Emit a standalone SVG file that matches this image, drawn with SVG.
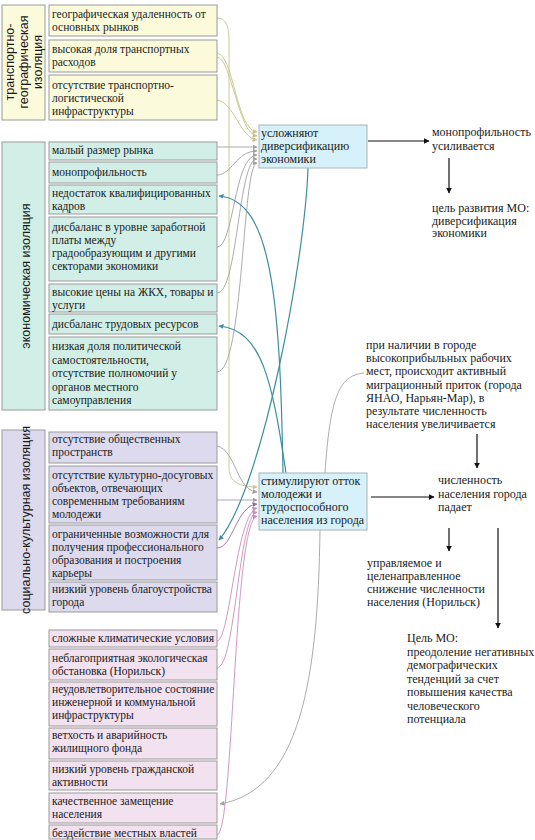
<svg xmlns="http://www.w3.org/2000/svg" width="535" height="840" viewBox="0 0 535 840">
<style>
.t{font-family:"Liberation Serif","Times New Roman",serif;font-size:11.5px;fill:#1a1a1a}
.c{font-family:"Liberation Serif","Times New Roman",serif;font-size:12px;fill:#1a1a1a}
.g{font-family:"Liberation Sans",Arial,sans-serif;font-size:12.5px;fill:#1a1a1a}
.y{fill:#fbfbdc;stroke:#9a9a9a;stroke-width:1}
.gr{fill:#d1efe6;stroke:#9a9a9a;stroke-width:1}
.pu{fill:#dddaee;stroke:#9a9a9a;stroke-width:1}
.pk{fill:#f2e1ee;stroke:#9a9a9a;stroke-width:1}
.cb{fill:#d6f1f9;stroke:#a8b4b8;stroke-width:1}
.lo{fill:none;stroke:#c4c48a;stroke-width:0.9;marker-end:url(#mo)}
.lo2{fill:none;stroke:#c4c48a;stroke-width:0.9}
.lg{fill:none;stroke:#a2a2a2;stroke-width:0.9;marker-end:url(#mg)}
.lg2{fill:none;stroke:#a2a2a2;stroke-width:0.9}
.lt{fill:none;stroke:#3c8e9e;stroke-width:1.2;marker-end:url(#mt)}
.lp{fill:none;stroke:#9a6aa6;stroke-width:0.9;marker-end:url(#mp)}
.lk{fill:none;stroke:#c98cbc;stroke-width:0.9;marker-end:url(#mk)}
.lb{fill:none;stroke:#111;stroke-width:1.2;marker-end:url(#mb)}
</style>
<defs>
<marker id="mo" viewBox="0 0 10 10" refX="9" refY="5" markerWidth="5" markerHeight="5" markerUnits="userSpaceOnUse" orient="auto"><path d="M0,0L10,5L0,10z" fill="#c4c48a"/></marker>
<marker id="mg" viewBox="0 0 10 10" refX="9" refY="5" markerWidth="5" markerHeight="5" markerUnits="userSpaceOnUse" orient="auto"><path d="M0,0L10,5L0,10z" fill="#a2a2a2"/></marker>
<marker id="mt" viewBox="0 0 10 10" refX="9" refY="5" markerWidth="5" markerHeight="5" markerUnits="userSpaceOnUse" orient="auto"><path d="M0,0L10,5L0,10z" fill="#3c8e9e"/></marker>
<marker id="mp" viewBox="0 0 10 10" refX="9" refY="5" markerWidth="5" markerHeight="5" markerUnits="userSpaceOnUse" orient="auto"><path d="M0,0L10,5L0,10z" fill="#9a6aa6"/></marker>
<marker id="mk" viewBox="0 0 10 10" refX="9" refY="5" markerWidth="5" markerHeight="5" markerUnits="userSpaceOnUse" orient="auto"><path d="M0,0L10,5L0,10z" fill="#c98cbc"/></marker>
<marker id="mb" viewBox="0 0 10 10" refX="9" refY="5" markerWidth="6" markerHeight="6" markerUnits="userSpaceOnUse" orient="auto"><path d="M0,0L10,5L0,10z" fill="#111"/></marker>
</defs>
<rect width="535" height="840" fill="#fff"/>

<g id="connectors">
<path class="lo2" d="M217,18 C226,18 229,26 229,40 L229,468"/>
<path class="lo" d="M229,468 C229,482 240,487 257,487"/>
<path class="lo" d="M217,53 C234,55 236,130 257,132"/>
<path class="lo" d="M217,57 C232,59 238,134 257,136"/>
<path class="lo" d="M217,100 C234,102 240,138 257,140"/>
<path class="lg" d="M217,147 L257,147"/>
<path class="lg" d="M217,175 C232,175 236,151 257,151"/>
<path class="lg" d="M217,247 C234,247 234,155 257,155"/>
<path class="lg" d="M217,293 C238,293 238,159 257,159"/>
<path class="lg" d="M217,372 C244,372 242,163 257,163"/>
<path class="lt" d="M308,168 C305,260 262,490 219,540"/>
<path class="lt" d="M283,473 C280,300 272,200 219,196"/>
<path class="lt" d="M286,473 C272,380 262,330 219,326"/>
<path class="lg" d="M320,530 C318,680 300,790 220,804"/>
<path class="lg2" d="M325,473 C330,400 338,375 364,373"/>
<path class="lg" d="M217,446 C236,450 236,490 257,492"/>
<path class="lg" d="M217,500 L257,500"/>
<path class="lp" d="M217,548 C233,548 236,506 257,504"/>
<path class="lk" d="M217,641 C230,641 236,514 257,508"/>
<path class="lk" d="M217,668 C236,666 238,516 257,512"/>
<path class="lk" d="M217,835 C234,833 233,522 257,516"/>
<path class="lb" d="M368,141 L429,141"/>
<path class="lb" d="M449,158 L449,193"/>
<path class="lb" d="M477,434 L477,468"/>
<path class="lb" d="M371,497 L434,497"/>
<path class="lb" d="M449,528 L449,551"/>
<path class="lb" d="M498,528 L498,628"/>
</g>

<g id="grp-transport">
<rect class="y" x="2" y="5" width="43" height="115"/>
<text class="g" transform="translate(0,62) rotate(-90)" text-anchor="middle"><tspan x="0" y="14">транспортно-</tspan><tspan x="0" y="28">географическая</tspan><tspan x="0" y="42">изоляция</tspan></text>
</g>
<g id="n-y1"><rect class="y" x="49" y="5" width="168" height="31"/><text class="t"><tspan x="52" y="18">географическая удаленность от</tspan><tspan x="52" y="31">основных рынков</tspan></text></g>
<g id="n-y2"><rect class="y" x="49" y="40" width="168" height="32"/><text class="t"><tspan x="52" y="53">высокая доля транспортных</tspan><tspan x="52" y="66">расходов</tspan></text></g>
<g id="n-y3"><rect class="y" x="49" y="75" width="168" height="45"/><text class="t"><tspan x="52" y="89">отсутствие транспортно-</tspan><tspan x="52" y="102">логистической</tspan><tspan x="52" y="115">инфраструктуры</tspan></text></g>

<g id="grp-econ">
<rect class="gr" x="2" y="142" width="43" height="268"/>
<text class="g" transform="translate(0,276) rotate(-90)" text-anchor="middle"><tspan x="0" y="30">экономическая изоляция</tspan></text>
</g>
<g id="n-g1"><rect class="gr" x="49" y="142" width="168" height="18"/><text class="t" x="52" y="154">малый размер рынка</text></g>
<g id="n-g2"><rect class="gr" x="49" y="162" width="168" height="21"/><text class="t" x="52" y="176">монопрофильность</text></g>
<g id="n-g3"><rect class="gr" x="49" y="185" width="168" height="29"/><text class="t"><tspan x="52" y="197">недостаток квалифицированных</tspan><tspan x="52" y="210">кадров</tspan></text></g>
<g id="n-g4"><rect class="gr" x="49" y="217" width="168" height="64"/><text class="t"><tspan x="52" y="231">дисбаланс в уровне заработной</tspan><tspan x="52" y="244">платы между</tspan><tspan x="52" y="257">градообразующим и другими</tspan><tspan x="52" y="270">секторами экономики</tspan></text></g>
<g id="n-g5"><rect class="gr" x="49" y="284" width="168" height="28"/><text class="t"><tspan x="52" y="296">высокие цены на ЖКХ, товары и</tspan><tspan x="52" y="309">услуги</tspan></text></g>
<g id="n-g6"><rect class="gr" x="49" y="314" width="168" height="20"/><text class="t" x="52" y="328">дисбаланс трудовых ресурсов</text></g>
<g id="n-g7"><rect class="gr" x="49" y="337" width="168" height="73"/><text class="t"><tspan x="52" y="350">низкая доля политической</tspan><tspan x="52" y="363.5">самостоятельности,</tspan><tspan x="52" y="377">отсутствие полномочий у</tspan><tspan x="52" y="390.5">органов местного</tspan><tspan x="52" y="404">самоуправления</tspan></text></g>

<g id="grp-social">
<rect class="pu" x="2" y="430" width="43" height="180"/>
<text class="g" transform="translate(0,520) rotate(-90)" text-anchor="middle"><tspan x="0" y="30">социально-культурная изоляция</tspan></text>
</g>
<g id="n-p1"><rect class="pu" x="49" y="432" width="168" height="31"/><text class="t"><tspan x="52" y="443">отсутствие общественных</tspan><tspan x="52" y="456">пространств</tspan></text></g>
<g id="n-p2"><rect class="pu" x="49" y="466" width="168" height="57"/><text class="t"><tspan x="52" y="479">отсутствие культурно-досуговых</tspan><tspan x="52" y="492">объектов, отвечающих</tspan><tspan x="52" y="505">современным требованиям</tspan><tspan x="52" y="518">молодежи</tspan></text></g>
<g id="n-p3"><rect class="pu" x="49" y="525" width="168" height="55"/><text class="t"><tspan x="52" y="538">ограниченные возможности для</tspan><tspan x="52" y="551">получения профессионального</tspan><tspan x="52" y="564">образования и построения</tspan><tspan x="52" y="577">карьеры</tspan></text></g>
<g id="n-p4"><rect class="pu" x="49" y="582" width="168" height="30"/><text class="t"><tspan x="52" y="593">низкий уровень благоустройства</tspan><tspan x="52" y="606">города</tspan></text></g>

<g id="n-k1"><rect class="pk" x="49" y="630" width="168" height="17"/><text class="t" x="52" y="642">сложные климатические условия</text></g>
<g id="n-k2"><rect class="pk" x="49" y="649" width="168" height="31"/><text class="t"><tspan x="52" y="662">неблагоприятная экологическая</tspan><tspan x="52" y="675">обстановка (Норильск)</tspan></text></g>
<g id="n-k3"><rect class="pk" x="49" y="682" width="168" height="44"/><text class="t"><tspan x="52" y="693">неудовлетворительное состояние</tspan><tspan x="52" y="706">инженерной и коммунальной</tspan><tspan x="52" y="719">инфраструктуры</tspan></text></g>
<g id="n-k4"><rect class="pk" x="49" y="728" width="168" height="31"/><text class="t"><tspan x="52" y="739">ветхость и аварийность</tspan><tspan x="52" y="752">жилищного фонда</tspan></text></g>
<g id="n-k5"><rect class="pk" x="49" y="761" width="168" height="29"/><text class="t"><tspan x="52" y="773">низкий уровень гражданской</tspan><tspan x="52" y="786">активности</tspan></text></g>
<g id="n-k6"><rect class="pk" x="49" y="793" width="168" height="30"/><text class="t"><tspan x="52" y="805">качественное замещение</tspan><tspan x="52" y="818">населения</tspan></text></g>
<g id="n-k7"><rect class="pk" x="49" y="825" width="168" height="14"/><text class="t" x="52" y="837">бездействие местных властей</text></g>

<g id="n-c1"><rect class="cb" x="259" y="125" width="108" height="43"/><text class="c"><tspan x="261" y="137">усложняют</tspan><tspan x="261" y="150">диверсификацию</tspan><tspan x="261" y="163">экономики</tspan></text></g>
<g id="n-c2"><rect class="cb" x="259" y="473" width="108" height="57"/><text class="c"><tspan x="261" y="485">стимулируют отток</tspan><tspan x="261" y="498">молодежи и</tspan><tspan x="261" y="511">трудоспособного</tspan><tspan x="261" y="524">населения из города</tspan></text></g>

<g id="n-r1"><text class="c"><tspan x="432" y="136">монопрофильность</tspan><tspan x="432" y="150">усиливается</tspan></text></g>
<g id="n-r2"><text class="c"><tspan x="432" y="212">цель развития МО:</tspan><tspan x="432" y="224.5">диверсификация</tspan><tspan x="432" y="237">экономики</tspan></text></g>
<g id="n-r3"><text class="c"><tspan x="366" y="349">при наличии в городе</tspan><tspan x="366" y="362.2">высокоприбыльных рабочих</tspan><tspan x="366" y="375.4">мест, происходит активный</tspan><tspan x="366" y="388.6">миграционный приток (города</tspan><tspan x="366" y="401.8">ЯНАО, Нарьян-Мар), в</tspan><tspan x="366" y="415">результате численность</tspan><tspan x="366" y="428.2">населения увеличивается</tspan></text></g>
<g id="n-r4"><text class="c"><tspan x="438" y="484">численность</tspan><tspan x="438" y="497.5">населения города</tspan><tspan x="438" y="511">падает</tspan></text></g>
<g id="n-r5"><text class="c"><tspan x="367" y="567">управляемое и</tspan><tspan x="367" y="580">целенаправленное</tspan><tspan x="367" y="593">снижение численности</tspan><tspan x="367" y="606">населения (Норильск)</tspan></text></g>
<g id="n-r6"><text class="c"><tspan x="407" y="642">Цель МО:</tspan><tspan x="407" y="655.5">преодоление негативных</tspan><tspan x="407" y="669">демографических</tspan><tspan x="407" y="682.5">тенденций за счет</tspan><tspan x="407" y="696">повышения качества</tspan><tspan x="407" y="709.5">человеческого</tspan><tspan x="407" y="723">потенциала</tspan></text></g>
</svg>
